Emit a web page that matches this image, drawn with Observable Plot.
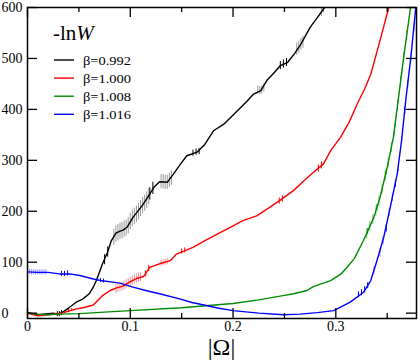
<!DOCTYPE html>
<html><head><meta charset="utf-8">
<script src="https://cdn.jsdelivr.net/npm/d3@7"></script>
<script src="https://cdn.jsdelivr.net/npm/@observablehq/plot@0.6"></script>
<style>
body{margin:0;background:#fff}
#chart{width:420px;height:363px}
</style>
</head><body><div id="chart"></div>
<script>
const seriesNames = ["β=0.992", "β=1.000", "β=1.008", "β=1.016"];
const seriesColors = ["#000000", "#ff0000", "#008b00", "#0000ff"];
const errColors = ["#9a9a9a", "#ff9a9a", "#7cc47c", "#8c8cff"];
const xMajorTicks = [0, 0.1, 0.2, 0.3];
const xMinorTicks = [0.05, 0.15, 0.25, 0.35];
const yTicks = [0, 100, 200, 300, 400, 500, 600];

// [|Ω|, -lnW]
const black = [[0,1],[0.005,-1],[0.01,-3],[0.015,-2],[0.02,-1],[0.025,0],[0.03,-2],[0.035,3],[0.04,10],[0.047,21],[0.054,28],[0.06,38],[0.064,51],[0.067,64],[0.073,97],[0.078,120],[0.0815,142],[0.086,157],[0.09,161],[0.093,163],[0.097,169],[0.1026,188],[0.112,212],[0.119,234],[0.123,247],[0.1285,258],[0.136,257],[0.142,273],[0.149,293],[0.155,309],[0.165,316],[0.172,330],[0.181,358],[0.191,371],[0.204,397],[0.214,417],[0.22,430],[0.227,437],[0.233,457],[0.24,472],[0.246,486],[0.253,492],[0.26,510],[0.266,528],[0.275,561],[0.282,580],[0.289,600]];
const red = [[0,0],[0.005,-3],[0.01,-5],[0.015,-4],[0.02,-3],[0.025,-2],[0.031,-1],[0.035,1],[0.04,4],[0.047,8],[0.055,11],[0.064,16],[0.0734,35],[0.08,44],[0.086,49],[0.093,53],[0.1,62],[0.106,68],[0.113,72],[0.119,90],[0.13,98],[0.139,103],[0.145,116],[0.161,129],[0.174,144],[0.194,165],[0.21,182],[0.223,191],[0.236,208],[0.246,222],[0.259,241],[0.269,260],[0.278,276],[0.288,293],[0.295,319],[0.3045,345],[0.313,375],[0.3207,410],[0.328,440],[0.334,469],[0.343,535],[0.3515,600]];
const green = [[0,0],[0.01,-2],[0.02,-3],[0.03,-2],[0.05,-1],[0.1,5],[0.15,10.5],[0.2,19],[0.225,26],[0.25,35],[0.259,38],[0.272,44.5],[0.278,52],[0.285,57],[0.295,64],[0.305,77],[0.311,90],[0.318,107],[0.327,143],[0.337,188],[0.343,227],[0.35,286],[0.356,345],[0.361,423],[0.366,502],[0.3727,600]];
const blue = [[0,81],[0.01,80],[0.02,80],[0.031,77],[0.041,77],[0.051,74],[0.064,67],[0.071,64],[0.083,61],[0.09,59],[0.1026,51],[0.116,44],[0.1285,38],[0.148,28],[0.16,21],[0.174,15],[0.185,10],[0.2,5],[0.225,0],[0.249,-3],[0.265,-2],[0.282,1],[0.298,5],[0.314,21.6],[0.327,41],[0.334,64],[0.34,103],[0.3466,149],[0.353,208],[0.3597,273],[0.364,339],[0.368,417],[0.373,502],[0.3775,594],[0.379,620]];

// error bars [|Ω|, centre, half-length], light shade
const errBlack = [[0.084,149,16],[0.086,155,16],[0.088,158,16],[0.09,161,16],[0.092,162,16],[0.094,165,16],[0.096,167,16],[0.098,172,16],[0.1,180,16],[0.102,186,16],[0.104,190,16],[0.106,194,16],[0.108,199,16],[0.11,205,16],[0.112,211,16],[0.114,216,16],[0.116,222,16],[0.118,229,16],[0.13,258,14],[0.132,258,14],[0.134,257,14],[0.136,257,14],[0.138,261,14],[0.14,265,14],[0.224,438,8],[0.226,437,8],[0.228,438,8],[0.23,442,8],[0.262,518,12],[0.264,522,12],[0.266,528,12],[0.268,532,12],[0.286,590,8],[0.288,597,8]];
const errRed = [[0.086,48,9],[0.088,50,9],[0.09,51,9],[0.092,52,9],[0.094,54,9],[0.096,57,9],[0.098,60,9],[0.1,62,9],[0.102,64,9],[0.104,66,9],[0.106,68,9],[0.108,70,9],[0.11,71,9],[0.13,98,6],[0.132,99,6],[0.134,100,6],[0.136,101,6],[0.351,598,6]];
const errGreen = [[0.33,155,10],[0.333,170,10],[0.336,184,10],[0.339,200,10],[0.342,220,10],[0.345,243,10],[0.348,268,10],[0.351,295,10],[0.354,325,10],[0.357,358,10],[0.36,408,10],[0.363,455,10],[0.366,502,10],[0.369,545,10]];
const errBlue = [[0.002,81,5],[0.004,80,5],[0.006,80,5],[0.008,80,5],[0.01,80,5],[0.012,80,5],[0.014,80,5],[0.016,80,5],[0.018,80,5],[0.337,83,8],[0.343,118,8],[0.346,142,8],[0.349,166,8],[0.352,198,8],[0.355,227,8],[0.358,254,8],[0.361,286,8],[0.364,339,8],[0.367,397,8],[0.37,450,8],[0.373,502,8],[0.376,560,8]];
// short error bars, dark shade
const tickBlack = [[0.029,-2,5],[0.031,-2,5],[0.033,0,5],[0.075,105,10],[0.078,120,10],[0.119,234,12],[0.122,245,12],[0.161,314,6],[0.164,316,6],[0.167,317,6],[0.246,486,8],[0.249,489,8],[0.252,492,8]];
const tickRed = [[0.04,4,3],[0.043,6,3],[0.115,77,6],[0.118,88,6],[0.15,121,5],[0.153,123,5],[0.245,220,6],[0.248,224,6],[0.283,284,7],[0.286,290,7]];
const tickGreen = [[0.331,160,6],[0.34,207,6],[0.349,277,6],[0.358,372,6]];
const tickBlue = [[0.033,77,5],[0.036,77,5],[0.039,78,5],[0.071,64,4],[0.074,63,4],[0.322,36,6],[0.325,40,6],[0.328,46,6],[0.331,54,6],[0.349,166,6],[0.358,254,6],[0.367,397,6]];

const lines = [black, red, green, blue];
const errs = [errBlack, errRed, errGreen, errBlue];
const ticks = [tickBlack, tickRed, tickGreen, tickBlue];

const width = 420, height = 363;
const mL = 27, mR = 4, mT = 7, mB = 45;
const innerW = width - mL - mR, innerH = height - mT - mB;
const font = "Liberation Serif";

const toRows = a => a.map(([x, y]) => ({x, y}));
const toBars = a => a.map(([x, y, e]) => ({x, y1: y - e, y2: y + e}));

const marks = [];
errs.forEach((e, i) => marks.push(Plot.ruleX(toBars(e), {x: "x", y1: "y1", y2: "y2", stroke: errColors[i], strokeWidth: 1, clip: true})));
ticks.forEach((e, i) => marks.push(Plot.ruleX(toBars(e), {x: "x", y1: "y1", y2: "y2", stroke: seriesColors[i], strokeWidth: 1, clip: true})));
lines.forEach((l, i) => marks.push(Plot.line(toRows(l), {x: "x", y: "y", stroke: seriesColors[i], strokeWidth: 1.4, clip: true})));
marks.push(
  Plot.tickX(xMajorTicks, {x: d => d, insetTop: innerH - 10, stroke: "black", strokeWidth: 1.3}),
  Plot.tickX(xMajorTicks, {x: d => d, insetBottom: innerH - 10, stroke: "black", strokeWidth: 1.3}),
  Plot.tickX(xMinorTicks, {x: d => d, insetTop: innerH - 5, stroke: "black", strokeWidth: 1.3}),
  Plot.tickX(xMinorTicks, {x: d => d, insetBottom: innerH - 5, stroke: "black", strokeWidth: 1.3}),
  Plot.tickY(yTicks, {y: d => d, insetRight: innerW - 10, stroke: "black", strokeWidth: 1.3}),
  Plot.tickY(yTicks, {y: d => d, insetLeft: innerW - 10, stroke: "black", strokeWidth: 1.3}),
  Plot.frame({stroke: "black", strokeWidth: 1.5}),
  Plot.axisX(xMajorTicks, {anchor: "bottom", tickSize: 0, tickPadding: 3, fontSize: 14, tickFormat: d => d === 0 ? "0" : d.toFixed(1), label: null}),
  Plot.axisY(yTicks, {anchor: "left", tickSize: 0, tickPadding: 26, textAnchor: "start", fontSize: 14, label: null})
);

const svgNode = Plot.plot({
  width, height,
  marginLeft: mL, marginRight: mR, marginTop: mT, marginBottom: mB,
  x: {domain: [0, 0.3785]},
  y: {domain: [-10.5, 600]},
  style: {background: "white", color: "black", overflow: "visible"},
  marks
});
document.getElementById("chart").appendChild(svgNode);

const svg = d3.select(svgNode);
svg.append("text")
  .attr("x", mL + innerW / 2).attr("y", 355)
  .attr("text-anchor", "middle").attr("font-size", 24)
  .attr("fill", "black").text("|Ω|");

const title = svg.append("text").attr("x", 53).attr("y", 40)
  .attr("text-anchor", "start").attr("font-size", 21).attr("fill", "black");
title.append("tspan").text("-ln");
title.append("tspan").attr("font-style", "italic").text("W");

seriesNames.forEach((name, i) => {
  const y = 60 + i * 18.1;
  svg.append("line").attr("x1", 54).attr("x2", 74).attr("y1", y).attr("y2", y)
    .attr("stroke", seriesColors[i]).attr("stroke-width", 1.4);
  svg.append("text").attr("x", 83).attr("y", y + 4.5)
    .attr("text-anchor", "start").attr("font-size", 12.5).attr("fill", "black")
    .attr("textLength", 48).attr("lengthAdjust", "spacingAndGlyphs").text(name);
});

svg.attr("font-family", font);
svg.selectAll("text").attr("font-family", font).style("font-family", "'Liberation Serif'");
</script></body></html>
